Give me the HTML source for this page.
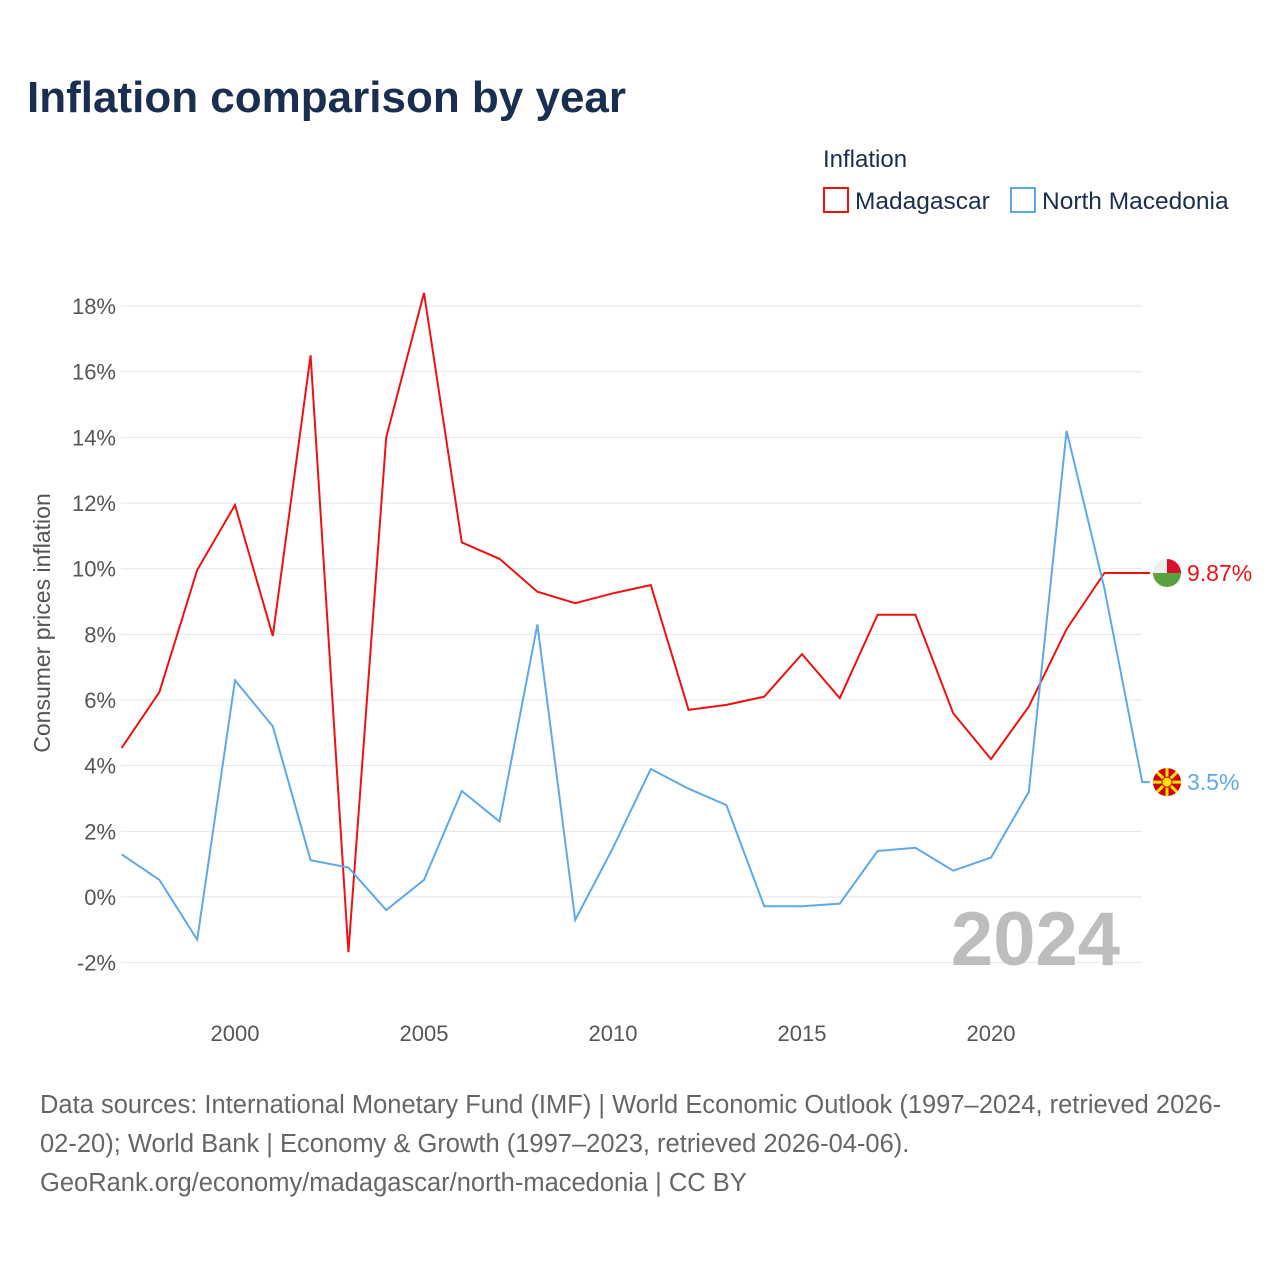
<!DOCTYPE html>
<html><head><meta charset="utf-8"><style>
body{margin:0;background:#fff;font-family:"Liberation Sans",sans-serif;}
</style></head><body>
<svg id="chart" width="1280" height="1280" xmlns="http://www.w3.org/2000/svg" font-family="Liberation Sans, sans-serif">
<text x="27" y="112" font-size="44" font-weight="bold" fill="#1a2e4f">Inflation comparison by year</text>
<text x="823" y="167" font-size="24" fill="#1a2e4f">Inflation</text>
<g><rect x="824" y="188" width="24" height="24" fill="none" stroke="#ee1111" stroke-width="2"/><text x="855" y="209" font-size="24.5" fill="#1a2e4f">Madagascar</text></g>
<g><rect x="1011" y="188" width="24" height="24" fill="none" stroke="#5fa8ea" stroke-width="2"/><text x="1042" y="209" font-size="24.5" fill="#1a2e4f">North Macedonia</text></g>
<text transform="translate(50,623) rotate(-90)" text-anchor="middle" font-size="23" fill="#555">Consumer prices inflation</text>
<g id="grid"></g><g id="yticks"></g><g id="xticks"></g><g id="series"></g>
<text x="1120" y="965" text-anchor="end" font-size="76" font-weight="bold" fill="#bdbdbd">2024</text>
<g font-size="25.5" fill="#666">
<text x="40" y="1113">Data sources: International Monetary Fund (IMF) | World Economic Outlook (1997–2024, retrieved 2026-</text>
<text x="40" y="1152">02-20); World Bank | Economy &amp; Growth (1997–2023, retrieved 2026-04-06).</text>
<text x="40" y="1191">GeoRank.org/economy/madagascar/north-macedonia | CC BY</text>
</g>
</svg>
<script>
const years=[1997,1998,1999,2000,2001,2002,2003,2004,2005,2006,2007,2008,2009,2010,2011,2012,2013,2014,2015,2016,2017,2018,2019,2020,2021,2022,2023,2024];
const madagascar=[4.54,6.24,9.96,11.94,7.95,16.5,-1.68,14.0,18.4,10.8,10.3,9.3,8.95,9.25,9.5,5.7,5.85,6.1,7.4,6.06,8.6,8.6,5.6,4.2,5.8,8.16,9.87,9.87];
const macedonia=[1.3,0.52,-1.3,6.6,5.2,1.12,0.9,-0.4,0.52,3.23,2.3,8.3,-0.7,1.5,3.9,3.3,2.8,-0.28,-0.28,-0.2,1.4,1.5,0.8,1.2,3.2,14.2,9.4,3.5];
const yTicks=[-2,0,2,4,6,8,10,12,14,16,18];
const xTicks=[2000,2005,2010,2015,2020];
const NS="http://www.w3.org/2000/svg";
const X=v=>121.6+(v-1997)*37.8;
const Y=v=>897-v*32.83;
function mk(t,a,p){const e=document.createElementNS(NS,t);for(const k in a)e.setAttribute(k,a[k]);p.appendChild(e);return e;}
const g=document.getElementById('grid'),yt=document.getElementById('yticks'),xt=document.getElementById('xticks'),s=document.getElementById('series');
yTicks.forEach(v=>{
const l=mk('line',{x1:121,x2:1142,y1:Y(v),y2:Y(v),stroke:'#e6e6e6','stroke-width':1},g);


const t=mk('text',{x:116,y:Y(v)+8,'text-anchor':'end','font-size':22,fill:'#555'},yt);t.textContent=v+'%';


});
xTicks.forEach(v=>{
const t=mk('text',{x:X(v),y:1041,'text-anchor':'middle','font-size':22,fill:'#555'},xt);t.textContent=v;


});
function line(vals,col,name){
const d=vals.map((v,i)=>(i?'L':'M')+X(years[i]).toFixed(1)+','+Y(v).toFixed(1)).join('')+'L1150,'+Y(vals[vals.length-1]).toFixed(1);
const p=mk('path',{d:d,fill:'none',stroke:col,'stroke-width':2},s);


}
line(madagascar,'#ee1111','madagascar-line');
line(macedonia,'#5fa8ea','north-macedonia-line');
const mv=madagascar[madagascar.length-1],nv=macedonia[macedonia.length-1];
const mg=mk('g',{},s);


mk('circle',{cx:1167,cy:Y(mv),r:14,fill:'#eee'},mg);
mk('path',{d:`M1167,${Y(mv)}L1167,${Y(mv)-14}A14,14 0 0 1 1181,${Y(mv)}Z`,fill:'#d8102e'},mg);
mk('path',{d:`M1167,${Y(mv)}L1181,${Y(mv)}A14,14 0 0 1 1167,${Y(mv)+14}Z`,fill:'#5aa040'},mg);
mk('path',{d:`M1167,${Y(mv)}L1167,${Y(mv)+14}A14,14 0 0 1 1153,${Y(mv)}Z`,fill:'#5aa040'},mg);
const ml=mk('text',{x:1187,y:Y(mv)+8,'font-size':23,fill:'#ee1111'},s);ml.textContent=mv+'%';


const ng=mk('g',{},s);


mk('circle',{cx:1167,cy:Y(nv),r:14,fill:'#d20000'},ng);
for(let a=0;a<8;a++){const r=a*Math.PI/4;mk('line',{x1:1167,y1:Y(nv),x2:1167+14*Math.cos(r),y2:Y(nv)+14*Math.sin(r),stroke:'#ffe600','stroke-width':3},ng);}
mk('circle',{cx:1167,cy:Y(nv),r:5,fill:'#ffe600',stroke:'#d20000','stroke-width':1},ng);
const nl=mk('text',{x:1187,y:Y(nv)+8,'font-size':23,fill:'#5fa8ea'},s);nl.textContent=nv+'%';


</script>
</body></html>
